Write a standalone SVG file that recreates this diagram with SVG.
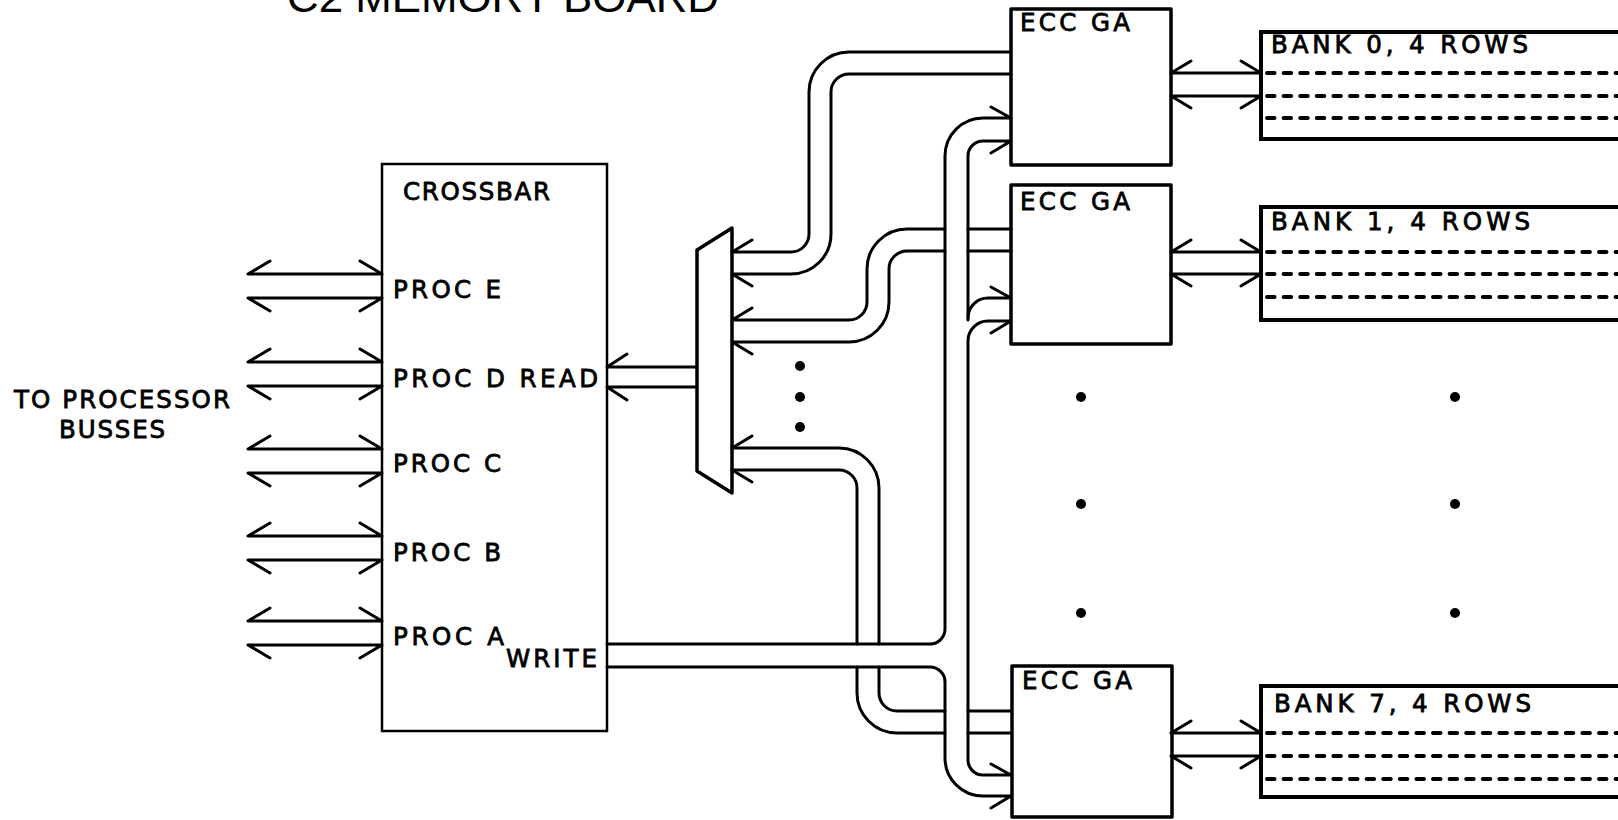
<svg xmlns="http://www.w3.org/2000/svg" width="1618" height="820" viewBox="0 0 1618 820">
<style>
  .bg { fill: #ffffff; }
  .lbl { font-family: "DejaVu Sans", "Liberation Sans", sans-serif; font-size: 24.5px; fill: #000; stroke: #000; stroke-width: 0.8; }
  .title { font-family: "Liberation Sans", "DejaVu Sans", sans-serif; font-size: 42px; fill: #000; }
  .xbar { fill: none; stroke: #000; stroke-width: 2.5; }
  .box { fill: none; stroke: #000; stroke-width: 3.5; stroke-linejoin: round; }
  .bank { fill: none; stroke: #000; stroke-width: 4; }
  .rows { fill: none; stroke: #000; stroke-width: 4; stroke-linecap: round; stroke-dasharray: 7.5 9.1; }
  .wire { fill: none; stroke: #000; stroke-width: 3; stroke-linecap: round; stroke-linejoin: round; }
  .dot { fill: #000; }
</style>
<rect class="bg" x="0" y="0" width="1618" height="820"/>

<g id="title">
  <text class="title" x="287" y="12" textLength="432" lengthAdjust="spacingAndGlyphs">C2 MEMORY BOARD</text>
</g>

<g id="processor-busses-label">
  <text class="lbl" x="14" y="408" textLength="216">TO PROCESSOR</text>
  <text class="lbl" x="59" y="438" textLength="106">BUSSES</text>
</g>

<g id="crossbar">
  <rect class="xbar" x="382" y="164" width="225" height="567"/>
  <text class="lbl" x="403" y="200" textLength="147">CROSSBAR</text>
  <text class="lbl" x="393" y="298" textLength="108">PROC E</text>
  <text class="lbl" x="393" y="387" textLength="205">PROC D READ</text>
  <text class="lbl" x="393" y="472" textLength="108">PROC C</text>
  <text class="lbl" x="393" y="561" textLength="108">PROC B</text>
  <text class="lbl" x="393" y="645" textLength="111">PROC A</text>
  <text class="lbl" x="506" y="667" textLength="91">WRITE</text>
</g>

<g id="mux">
  <polygon class="box" points="697,250 732,228 732,493 697,471"/>
</g>

<g id="mux-ellipsis">
  <circle class="dot" cx="800" cy="366" r="5"/>
  <circle class="dot" cx="800" cy="397" r="5"/>
  <circle class="dot" cx="800" cy="427" r="5"/>
</g>

<g id="ecc0">
  <rect class="box" x="1011" y="9" width="160" height="156"/>
  <text class="lbl" x="1020" y="31" textLength="110">ECC GA</text>
</g>
<g id="ecc1">
  <rect class="box" x="1011" y="185" width="160" height="159"/>
  <text class="lbl" x="1020" y="210" textLength="110">ECC GA</text>
</g>
<g id="ecc7">
  <rect class="box" x="1012" y="666" width="160" height="151"/>
  <text class="lbl" x="1022" y="689" textLength="110">ECC GA</text>
</g>

<g id="bank0">
  <rect class="bank" x="1261" y="32" width="420" height="107"/>
  <text class="lbl" x="1271" y="53" textLength="257">BANK 0,  4 ROWS</text>
  <path class="rows" d="M1267 73 H1618 M1267 96 H1618 M1267 118 H1618"/>
</g>
<g id="bank1">
  <rect class="bank" x="1261" y="207" width="420" height="113"/>
  <text class="lbl" x="1271" y="230" textLength="259">BANK 1,  4 ROWS</text>
  <path class="rows" d="M1267 252 H1618 M1267 274 H1618 M1267 297 H1618"/>
</g>
<g id="bank7">
  <rect class="bank" x="1261" y="686" width="420" height="111"/>
  <text class="lbl" x="1274" y="712" textLength="257">BANK 7,  4 ROWS</text>
  <path class="rows" d="M1267 733 H1618 M1267 756 H1618 M1267 779 H1618"/>
</g>

<g id="ellipsis-ecc">
  <circle class="dot" cx="1081" cy="397" r="5"/>
  <circle class="dot" cx="1081" cy="504" r="5"/>
  <circle class="dot" cx="1081" cy="613" r="5"/>
</g>
<g id="ellipsis-bank">
  <circle class="dot" cx="1455" cy="397" r="5"/>
  <circle class="dot" cx="1455" cy="504" r="5"/>
  <circle class="dot" cx="1455" cy="613" r="5"/>
</g>

<g id="connectors">
  <!-- processor busses -->
  <path class="wire" d="M270 261 L248 274 L382 274 L360 261 M270 311 L248 298 L382 298 L360 311"/>
  <path class="wire" d="M270 349 L248 362 L382 362 L360 349 M270 399 L248 386 L382 386 L360 399"/>
  <path class="wire" d="M270 436 L248 449 L382 449 L360 436 M270 486 L248 473 L382 473 L360 486"/>
  <path class="wire" d="M270 523 L248 536 L382 536 L360 523 M270 573 L248 560 L382 560 L360 573"/>
  <path class="wire" d="M270 608 L248 621 L382 621 L360 608 M270 658 L248 645 L382 645 L360 658"/>

  <!-- READ bus: mux to crossbar -->
  <path class="wire" d="M627 354 L607 367 L697 367 M627 400 L607 387 L697 387"/>

  <!-- ECC0 to mux -->
  <path class="wire" d="M1011 52 H849 A40 40 0 0 0 809 92 V234 A18 18 0 0 1 791 252 H732 L752 240"/>
  <path class="wire" d="M1011 74 H849 A18 18 0 0 0 831 92 V234 A40 40 0 0 1 791 274 H732 L752 286"/>

  <!-- ECC1 to mux -->
  <path class="wire" d="M1011 229 H968 M945 229 H907 A40 40 0 0 0 867 269 V302 A18 18 0 0 1 849 320 H732 L752 308"/>
  <path class="wire" d="M1011 251 H968 M945 251 H907 A18 18 0 0 0 889 269 V302 A40 40 0 0 1 849 342 H732 L752 354"/>

  <!-- ECC7 to mux -->
  <path class="wire" d="M732 448 H839 A40 40 0 0 1 879 488 V644 M879 667 V693 A18 18 0 0 0 897 711 H945 M968 711 H1011"/>
  <path class="wire" d="M732 470 H839 A18 18 0 0 1 857 488 V644 M857 667 V693 A40 40 0 0 0 897 733 H945 M968 733 H1011"/>
  <path class="wire" d="M752 436 L732 448 M752 482 L732 470"/>

  <!-- WRITE bus to ECC gate arrays -->
  <path class="wire" d="M607 644 H930 A15 15 0 0 0 945 629 V156 A38 38 0 0 1 983 118 H1011 L991 107"/>
  <path class="wire" d="M607 667 H930 A15 15 0 0 1 945 682 V758 A38 38 0 0 0 983 796 H1011 L991 808"/>
  <path class="wire" d="M991 153 L1011 141 H983 A15 15 0 0 0 968 156 V320"/>
  <path class="wire" d="M968 318 A20 20 0 0 1 988 298 H1011 L991 287"/>
  <path class="wire" d="M991 333 L1011 321 H988 A20 20 0 0 0 968 341 V760 A15 15 0 0 0 983 775 H1011 L991 764"/>

  <!-- ECC to banks -->
  <path class="wire" d="M1191 61 L1171 73 L1261 73 L1241 61 M1191 108 L1171 96 L1261 96 L1241 108"/>
  <path class="wire" d="M1191 240 L1171 252 L1261 252 L1241 240 M1191 286 L1171 274 L1261 274 L1241 286"/>
  <path class="wire" d="M1191 721 L1171 733 L1261 733 L1241 721 M1191 768 L1171 756 L1261 756 L1241 768"/>
</g>
</svg>
